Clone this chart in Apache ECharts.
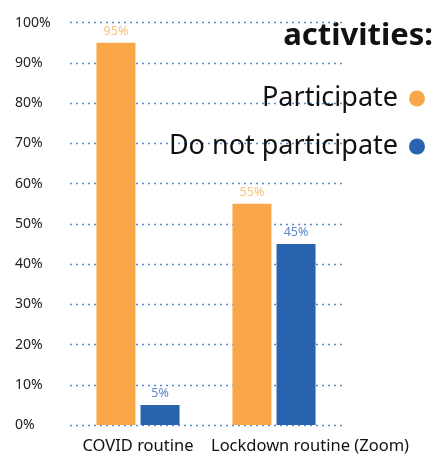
<!DOCTYPE html>
<html><head><meta charset="utf-8">
<script src="https://cdn.jsdelivr.net/npm/echarts@6/dist/echarts.min.js"></script>
<style>html,body{margin:0;padding:0;background:#fff}#c{width:438px;height:455px}</style>
</head><body><div id="c"></div>
<script>
const categories = ['COVID routine', 'Lockdown routine (Zoom)'];
const participate = [95, 55];
const notParticipate = [5, 45];
const seriesNames = ['Participate', 'Do not participate'];
const yTicks = [0, 10, 20, 30, 40, 50, 60, 70, 80, 90, 100];

const chart = echarts.init(document.getElementById('c'));
const F = '"Noto Sans", sans-serif';
chart.setOption({
  animation: false,
  textStyle: { fontFamily: F },
  graphic: [{
    type: 'text', right: 5, top: 21,
    style: { text: 'activities:', font: 'bold 31px "Noto Sans", sans-serif', fill: '#111' }
  }],
  legend: {
    orient: 'vertical', right: 8, top: 80, align: 'right',
    icon: 'circle', itemWidth: 16, itemHeight: 16, itemGap: 21,
    textStyle: { fontSize: 27, color: '#111', fontFamily: F, padding: [0, 6, 0, 0] },
    data: seriesNames
  },
  grid: { left: 70, right: 96, top: 22.7, bottom: 30 },
  xAxis: {
    type: 'category', data: categories,
    axisLine: { show: false }, axisTick: { show: false },
    axisLabel: {
      interval: 0, margin: 13, color: '#111', fontSize: 16.5, fontFamily: F,
      formatter: (v, i) => i === 1 ? '{b|' + v + '}' : '{a|' + v + '}',
      rich: {
        a: { fontSize: 16.5, color: '#111', fontFamily: F },
        b: { fontSize: 16.5, color: '#111', fontFamily: F, padding: [0, 0, 0, 72] }
      }
    }
  },
  yAxis: {
    type: 'value', min: 0, max: 100, interval: 10,
    axisLine: { show: false }, axisTick: { show: false },
    axisLabel: {
      align: 'left', margin: 55, color: '#222', fontSize: 14, fontFamily: F,
      formatter: v => yTicks.includes(v) ? v + '%' : ''
    },
    splitLine: { lineStyle: { type: [2, 4], color: '#5A8BD0', width: 1.3 } }
  },
  series: [
    {
      name: seriesNames[0], type: 'bar', data: participate,
      barWidth: 39, barGap: '13%',
      itemStyle: { color: '#F9A748' },
      label: { show: true, position: 'top', formatter: '{c}%', color: '#F9BF7E', fontSize: 12.5, distance: 5 }
    },
    {
      name: seriesNames[1], type: 'bar', data: notParticipate,
      barWidth: 39,
      itemStyle: { color: '#2962AF' },
      label: { show: true, position: 'top', formatter: '{c}%', color: '#5B86C8', fontSize: 12.5, distance: 5 }
    }
  ]
});
</script></body></html>
